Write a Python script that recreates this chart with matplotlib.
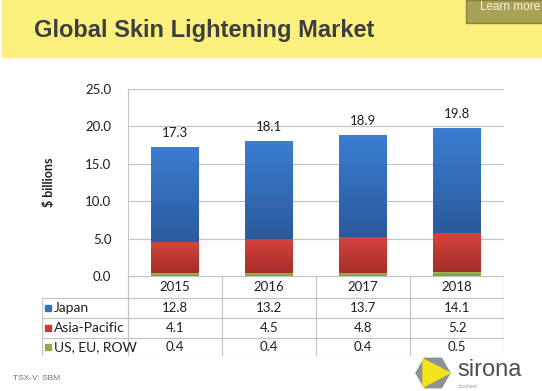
import matplotlib.pyplot as plt
from matplotlib.patches import Rectangle, Polygon
from matplotlib.colors import LinearSegmentedColormap
import numpy as np

years = ["2015", "2016", "2017", "2018"]
series_names = ["Japan", "Asia-Pacific", "US, EU, ROW"]
japan = [12.8, 13.2, 13.7, 14.1]
asia_pacific = [4.1, 4.5, 4.8, 5.2]
us_eu_row = [0.4, 0.4, 0.4, 0.5]
totals = [17.3, 18.1, 18.9, 19.8]
yticks = [0.0, 5.0, 10.0, 15.0, 20.0, 25.0]

colors = {"Japan": "#3471bd", "Asia-Pacific": "#c53a34",
          "US, EU, ROW": "#8fae45"}
# (bottom, top) shades for the vertical gradient of each series
gradients = {"Japan": ("#2a5a9c", "#3b7ed2"),
             "Asia-Pacific": ("#a52d29", "#d4433c"),
             "US, EU, ROW": ("#7c963c", "#9dbb5a")}
text_color = "#1f1f1f"
line_color = "#c4c4c4"
font = "Lato"

W, H = 542, 391
fig = plt.figure(figsize=(W / 100, H / 100), dpi=100)
fig.patch.set_facecolor("white")


def fx(px):
    return px / W


def fy(py):
    return 1 - py / H


# yellow title band
fig.patches.append(Rectangle((fx(2), fy(57)), fx(540), 57 / H,
                             transform=fig.transFigure, color="#fbf07d",
                             zorder=0))
fig.patches.append(Rectangle((fx(466), fy(23)), fx(90), 23 / H,
                             transform=fig.transFigure, fc="#a9a256",
                             ec="#8a8240", zorder=1))
fig.text(fx(480), fy(7), "Learn more", color="#f6f3d8", fontsize=8.5,
         family="Liberation Sans", va="center", ha="left")
fig.text(fx(34), fy(30), "Global Skin Lightening Market",
         fontsize=17, fontweight="bold", color="#3c3f3f",
         family="Liberation Sans", va="center", ha="left")

# chart
ax_left, ax_top, ax_right, ax_bottom = 128, 89, 504, 276
ax = fig.add_axes([fx(ax_left), fy(ax_bottom), fx(ax_right - ax_left),
                   (ax_bottom - ax_top) / H])
ax.set_facecolor("none")
x = np.arange(len(years))
width = 0.51
bottom2 = np.array(us_eu_row) + np.array(asia_pacific)
stacks = [("US, EU, ROW", us_eu_row, 0),
          ("Asia-Pacific", asia_pacific, us_eu_row),
          ("Japan", japan, bottom2)]
grad = np.linspace(0, 1, 256).reshape(-1, 1)
for name, vals, bot in stacks:
    bars = ax.bar(x, vals, width, bottom=bot, color=colors[name], zorder=3)
    cmap = LinearSegmentedColormap.from_list(name, gradients[name])
    for patch in bars.patches:
        x0, y0 = patch.get_x(), patch.get_y()
        im = ax.imshow(grad, cmap=cmap, aspect="auto", origin="lower",
                       extent=(x0, x0 + patch.get_width(), y0,
                               y0 + patch.get_height()), zorder=3.5)
        im.set_clip_path(patch)

for xi, t in zip(x, totals):
    ax.text(xi, t + 1.0, f"{t:.1f}", ha="center", va="bottom",
            fontsize=9.5, color=text_color, family=font)

ax.set_xlim(-0.5, len(years) - 0.5)
ax.set_ylim(0, 25)
ax.set_yticks(yticks)
ax.set_yticklabels([f"{v:.1f}" for v in yticks], fontsize=9.5,
                   color=text_color, family=font)
ax.tick_params(axis="y", length=0, pad=12)
ax.set_xticks([])
ax.grid(axis="y", color=line_color, linewidth=0.9, zorder=0)
for s in ["top", "right", "bottom"]:
    ax.spines[s].set_visible(False)
ax.spines["left"].set_color(line_color)
ax.set_ylabel("\\$ billions", fontsize=9, fontweight="bold",
              color=text_color, family=font, labelpad=22)

# data table under the chart
tb_left, tb_top, tb_bottom = 41.5, 276, 356
tax = fig.add_axes([fx(tb_left), fy(tb_bottom), fx(ax_right - tb_left),
                    (tb_bottom - tb_top) / H])
tax.set_xlim(tb_left, ax_right)
tax.set_ylim(tb_bottom, tb_top)
tax.axis("off")
row_lines = [276, 297.5, 317.5, 337.5, 356]
col_lines = [ax_left + i * (ax_right - ax_left) / len(years)
             for i in range(len(years) + 1)]
lw = 0.9
for yl in row_lines:
    x0 = ax_left if yl == row_lines[0] else tb_left
    tax.plot([x0, ax_right], [yl, yl], color=line_color, lw=lw)
for xl in col_lines:
    tax.plot([xl, xl], [tb_top, tb_bottom], color=line_color, lw=lw)
tax.plot([tb_left, tb_left], [row_lines[1], tb_bottom], color=line_color,
         lw=lw)
for i, yr in enumerate(years):
    cx = (col_lines[i] + col_lines[i + 1]) / 2
    tax.text(cx, (row_lines[0] + row_lines[1]) / 2 + 0.5, yr, ha="center",
             va="center", fontsize=9.5, color=text_color, family=font)
rows = [japan, asia_pacific, us_eu_row]
for r, (name, vals) in enumerate(zip(series_names, rows)):
    cy = (row_lines[r + 1] + row_lines[r + 2]) / 2 + 0.5
    tax.add_patch(Rectangle((tb_left + 3, cy - 3.2), 6.4, 6.4,
                            color=colors[name]))
    tax.text(tb_left + 12, cy, name, ha="left", va="center", fontsize=10,
             color=text_color, family=font)
    for i, v in enumerate(vals):
        cx = (col_lines[i] + col_lines[i + 1]) / 2
        tax.text(cx, cy, f"{v:.1f}", ha="center", va="center",
                 fontsize=9.5, color=text_color, family=font)

# footer
fig.text(fx(13), fy(378), "TSX-V: SBM", fontsize=6, color="#777777",
         family="Liberation Sans", va="center")
hex_cx, hex_cy, r = 433, 373, 17
hexagon = [(hex_cx + r * np.cos(a), hex_cy + r * np.sin(a))
           for a in np.deg2rad(np.arange(0, 360, 60))]
fig.patches.append(Polygon([(fx(px), fy(py)) for px, py in hexagon],
                           transform=fig.transFigure, color="#8d9297"))
tri = [(423, 359), (450, 373), (423, 387)]
fig.patches.append(Polygon([(fx(px), fy(py)) for px, py in tri],
                           transform=fig.transFigure, color="#f2e31a"))
fig.text(fx(457), fy(370), "sirona", fontsize=17, color="#4a5058",
         family="Liberation Sans", va="center", ha="left")
fig.text(fx(459), fy(386), "biochem", fontsize=3.5, color="#999999",
         family="Liberation Sans", va="center", ha="left")

fig.savefig("out.png", dpi=100)
